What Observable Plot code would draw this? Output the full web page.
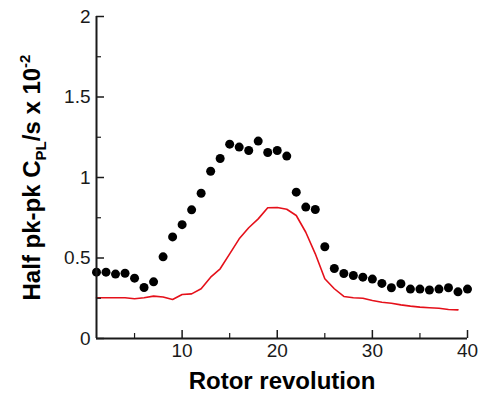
<!DOCTYPE html>
<html>
<head>
<meta charset="utf-8">
<script src="https://cdn.jsdelivr.net/npm/d3@7"></script>
<script src="https://cdn.jsdelivr.net/npm/@observablehq/plot@0.6"></script>
<style>
  html, body { margin: 0; padding: 0; background: #fff; }
  svg { display: block; }
</style>
</head>
<body>
<div id="chart"></div>
<script>
// Data
const revolutions = d3.range(1, 41);
const measured = [0.412, 0.412, 0.400, 0.405, 0.375, 0.317, 0.352, 0.507, 0.631, 0.707,
  0.799, 0.902, 1.039, 1.118, 1.207, 1.189, 1.168, 1.226, 1.155, 1.168,
  1.133, 0.909, 0.816, 0.801, 0.570, 0.435, 0.404, 0.391, 0.381, 0.369,
  0.342, 0.315, 0.340, 0.307, 0.307, 0.301, 0.307, 0.315, 0.290, 0.307];
const modelRevs = d3.range(1, 40);
const modelled = [0.253, 0.253, 0.253, 0.253, 0.247, 0.253, 0.263, 0.258, 0.242, 0.273,
  0.277, 0.309, 0.381, 0.433, 0.526, 0.619, 0.688, 0.743, 0.812, 0.814,
  0.803, 0.764, 0.660, 0.526, 0.371, 0.309, 0.261, 0.253, 0.250, 0.236,
  0.225, 0.219, 0.209, 0.201, 0.195, 0.191, 0.188, 0.180, 0.178];
const xMajor = [10, 20, 30, 40];
const xMinor = [5, 15, 25, 35];
const yMajor = [0, 0.5, 1, 1.5, 2];
const yMinor = [0.25, 0.75, 1.25, 1.75];
const xTitle = "Rotor revolution";
const yTitleParts = ["Half pk-pk C", "PL", "/s x 10", "-2"];

const dots = revolutions.map((r, i) => ({r, v: measured[i]}));
const line = modelRevs.map((r, i) => ({r, v: modelled[i]}));

const W = 479, H = 398, mL = 96, mR = 12, mT = 16, mB = 60;
const innerW = W - mL - mR, innerH = H - mT - mB;
const axisColor = "#1a1a1a";
const svg = Plot.plot({
  width: W,
  height: H,
  marginLeft: mL,
  marginRight: mR,
  marginTop: mT,
  marginBottom: mB,
  style: {fontFamily: "'Liberation Sans', Arial, sans-serif", background: "#fff", color: axisColor},
  x: {domain: [1, 40]},
  y: {domain: [0, 2]},
  marks: [
    Plot.line(line, {x: "r", y: "v", stroke: "#e5101a", strokeWidth: 1.6}),
    Plot.dot(dots, {x: "r", y: "v", r: 4.5, fill: "#000", stroke: null}),
    // inward ticks
    Plot.tickX(xMajor, {x: d => d, insetTop: innerH - 8, stroke: axisColor, strokeWidth: 1.5}),
    Plot.tickX(xMinor, {x: d => d, insetTop: innerH - 5, stroke: axisColor, strokeWidth: 1.2}),
    Plot.tickY(yMajor, {y: d => d, insetRight: innerW - 8, stroke: axisColor, strokeWidth: 1.5}),
    Plot.tickY(yMinor, {y: d => d, insetRight: innerW - 5, stroke: axisColor, strokeWidth: 1.2}),
    // axis lines
    Plot.ruleY([0], {stroke: axisColor, strokeWidth: 2}),
    Plot.ruleX([1], {stroke: axisColor, strokeWidth: 2}),
    // tick labels
    Plot.axisX({ticks: xMajor, tickSize: 0, tickPadding: 5, fontSize: 19, label: null, tickFormat: d => String(d)}),
    Plot.axisY({ticks: yMajor, tickSize: 0, tickPadding: 6, fontSize: 19, label: null, tickFormat: d => String(d)}),
    // axis titles
    Plot.text([xTitle], {frameAnchor: "bottom", dy: 43, fontSize: 24, fontWeight: "bold", lineAnchor: "middle", textAnchor: "middle", fill: "#000"}),
    Plot.text([yTitleParts.join("")], {frameAnchor: "left", dx: -64, rotate: -90, fontSize: 24, fontWeight: "bold", lineAnchor: "middle", textAnchor: "middle", fill: "#000"})
  ]
});

// Rich y-axis title with subscript and superscript
const full = yTitleParts.join("");
d3.select(svg).selectAll("text").filter(function() { return this.textContent === full; }).each(function() {
  const t = d3.select(this);
  t.text(null);
  t.append("tspan").text(yTitleParts[0]);
  t.append("tspan").attr("font-size", 15).attr("dy", 6).text(yTitleParts[1]);
  t.append("tspan").attr("dy", -6).text(yTitleParts[2]);
  t.append("tspan").attr("font-size", 15).attr("dy", -10).text(yTitleParts[3]);
});

document.getElementById("chart").appendChild(svg);
</script>
</body>
</html>
